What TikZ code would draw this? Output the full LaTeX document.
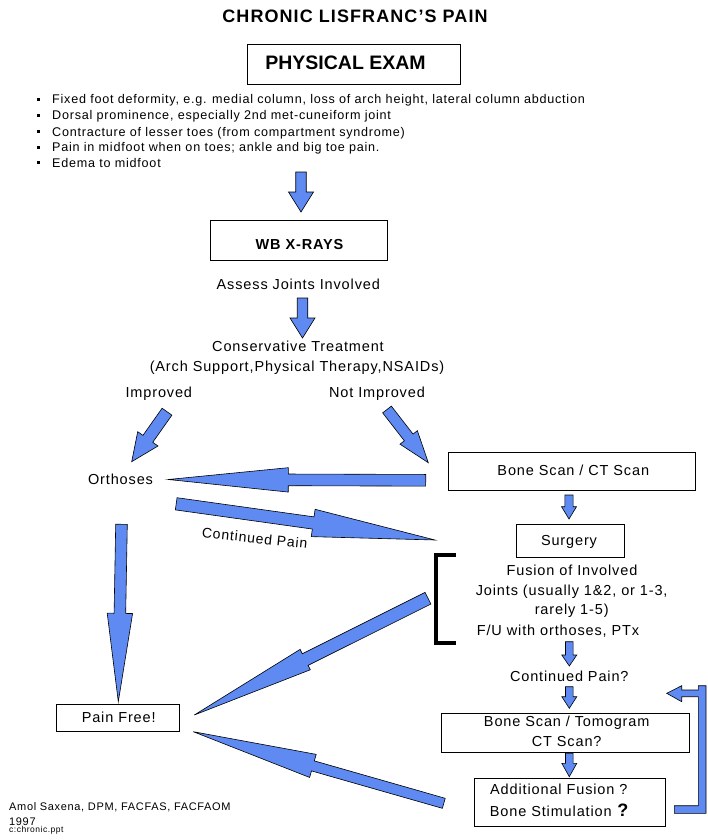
\documentclass[tikz,border=0pt]{standalone}
\usepackage{fontspec}
\setmainfont{Liberation Sans}[LetterSpace=6]
\newfontfamily\plainbold{Liberation Sans}[LetterSpace=0]
\usetikzlibrary{calc}
\definecolor{arrowblue}{RGB}{94,138,242}
\tikzset{
  fatstyle/.style={fill=arrowblue, draw=black, line width=0.6pt, line join=miter},
  box/.style={draw=black, line width=0.8pt, inner sep=0pt},
  txt/.style={inner sep=0pt, anchor=base, font=\fontsize{14.5}{17}\selectfont},
  bul/.style={inner sep=0pt, anchor=base west, font=\fontsize{12.6}{15}\selectfont},
  small/.style={inner sep=0pt, anchor=base west, font=\fontsize{11}{13}\selectfont},
}
% #1 tail, #2 tip, #3 shaft half width, #4 head half width, #5 head length
\newcommand\fatarrow[5]{%
  \path ($(#2)!#5!(#1)$) coordinate (fab);
  \filldraw[fatstyle] ($(#1)!#3!90:(#2)$) -- ($(fab)!#3!-90:(#1)$) -- ($(fab)!#4!-90:(#1)$) -- (#2)
    -- ($(fab)!#4!90:(#1)$) -- ($(fab)!#3!90:(#1)$) -- ($(#1)!#3!-90:(#2)$) -- cycle;}
\begin{document}
\begin{tikzpicture}[x=1pt,y=-1pt]
\useasboundingbox (0,0) rectangle (707,840);
\fill[white] (0,0) rectangle (707,840);

% title and physical exam
\node[inner sep=0pt, anchor=base, font=\bfseries\fontsize{18}{20}\selectfont] (title) at (355,22.7) {CHRONIC LISFRANC’S PAIN};
\node[box, minimum width=213pt, minimum height=40pt] (pebox) at (353.5,64.3) {};
\node[inner sep=0pt, anchor=base, font=\plainbold\bfseries\fontsize{19.5}{22}\selectfont] (pe) at (345.5,70) {PHYSICAL EXAM};

% bullets
\foreach \b in {104,120,136,151.5,167}{\fill (36.8,\b-6) rectangle ++(3,3);}
\node[bul] (b1) at (52,104) {Fixed foot deformity, e.g. medial column, loss of arch height, lateral column abduction};
\node[bul] (b2) at (52,120) {Dorsal prominence, especially 2nd met-cuneiform joint};
\node[bul] (b3) at (52,136) {Contracture of lesser toes (from compartment syndrome)};
\node[bul] (b4) at (52,151.5) {Pain in midfoot when on toes; ankle and big toe pain.};
\node[bul] (b5) at (52,167) {Edema to midfoot};

% WB x-rays
\node[box, minimum width=177.7pt, minimum height=40pt] (wbbox) at (298.85,240.7) {};
\node[txt, font=\bfseries\fontsize{14.5}{17}\selectfont] (wb) at (299.5,249.3) {WB X-RAYS};
\node[txt] (assess) at (298.3,289.3) {Assess Joints Involved};
\node[txt] (cons) at (298,351.5) {Conservative Treatment};
\node[txt] (arch) at (297,371) {(Arch Support,Physical Therapy,NSAIDs)};
\node[txt] (impr) at (158.8,397) {Improved};
\node[txt] (notimpr) at (377,397) {Not Improved};
\node[txt] (orth) at (120.5,484) {Orthoses};
\node[txt, rotate=-6, font=\fontsize{14}{16}\selectfont] (contpain) at (254.2,543) {Continued Pain};

% right column
\node[box, minimum width=246.7pt, minimum height=38.4pt] (bsbox) at (571.65,471.5) {};
\node[txt] (bs) at (573.3,475) {Bone Scan / CT Scan};
\node[box, minimum width=107.3pt, minimum height=33pt] (surgbox) at (570.35,540.8) {};
\node[txt] (surg) at (569,545) {Surgery};
\node[txt] (fus1) at (572,575.7) {Fusion of Involved};
\node[txt] (fus2) at (571.7,595) {Joints (usually 1\&2, or 1-3,};
\node[txt] (fus3) at (571.7,614) {rarely 1-5)};
\node[txt] (fu) at (558,635) {F/U with orthoses, PTx};
\node[txt] (cp) at (569.3,681.7) {Continued Pain?};
\node[box, minimum width=247.6pt, minimum height=39pt] (btbox) at (565.5,732.8) {};
\node[txt] (bt1) at (566.7,726.5) {Bone Scan / Tomogram};
\node[txt] (bt2) at (566.7,746) {CT Scan?};
\node[box, minimum width=191.4pt, minimum height=48.4pt] (addbox) at (570,802.5) {};
\node[txt, anchor=base west] (add1) at (490,794) {Additional Fusion ?};
\node[txt, anchor=base west] (add2) at (489.7,816) {Bone Stimulation \textbf{\fontsize{18}{20}\selectfont ?}};

% pain free
\node[box, minimum width=123.3pt, minimum height=27.7pt] (pfbox) at (117.65,717.85) {};
\node[txt] (pf) at (118.7,722.7) {Pain Free!};

% author
\node[small] (auth) at (9,810.7) {Amol Saxena, DPM, FACFAS, FACFAOM};
\node[small] (year) at (9,825) {1997};
\node[inner sep=0pt, anchor=base west, font=\fontsize{8.5}{10}\selectfont] (file) at (9,832.5) {c:chronic.ppt};

% bracket
\draw[line width=4.2pt, line join=miter] (456,554.8) -- (436.2,554.8) -- (436.2,643.2) -- (456,643.2);

% arrow end points
\coordinate (a1t) at (301,172);     \coordinate (a1h) at (301,212);
\coordinate (a2t) at (302.5,298);   \coordinate (a2h) at (302.5,338);
\coordinate (ait) at (167,411.7);   \coordinate (aih) at (131.7,461.7);
\coordinate (ant) at (387,409.5);   \coordinate (anh) at (428.3,462.7);
\coordinate (aot) at (425.7,480.3); \coordinate (aoh) at (168.3,479.5);
\coordinate (act) at (176.2,503.8); \coordinate (ach) at (435,540);
\coordinate (adt) at (121.5,524.3); \coordinate (adh) at (118.3,701.7);
\coordinate (aft) at (428,598.2);   \coordinate (afh) at (194.3,715);
\coordinate (aat) at (443.8,803.3); \coordinate (aah) at (193.3,731.7);
\coordinate (ast) at (569,495);     \coordinate (ash) at (569,519);
\coordinate (a3t) at (569.3,641.7); \coordinate (a3h) at (569.3,666);
\coordinate (a4t) at (569.3,686.7); \coordinate (a4h) at (569.3,708.3);
\coordinate (a5t) at (569.3,753.3); \coordinate (a5h) at (569.3,776.7);

\fatarrow{a1t}{a1h}{5.25pt}{12.5pt}{20pt}
\fatarrow{a2t}{a2h}{5.25pt}{12.5pt}{20pt}
\fatarrow{ait}{aih}{6pt}{12.4pt}{28pt}
\fatarrow{ant}{anh}{5.5pt}{11pt}{32pt}
\fatarrow{aot}{aoh}{5.85pt}{12.2pt}{120pt}
\fatarrow{act}{ach}{6.15pt}{13.8pt}{123pt}
\fatarrow{adt}{adh}{5.8pt}{12.7pt}{88.4pt}
\fatarrow{aft}{afh}{6.5pt}{11.4pt}{124pt}
\fatarrow{aat}{aah}{5.2pt}{12pt}{124.4pt}
\fatarrow{ast}{ash}{4.15pt}{7.5pt}{12.3pt}
\fatarrow{a3t}{a3h}{3.8pt}{7.5pt}{11pt}
\fatarrow{a4t}{a4h}{3.8pt}{7.5pt}{11.6pt}
\fatarrow{a5t}{a5h}{3.8pt}{7.5pt}{13.4pt}

% feedback loop arrow
\filldraw[fatstyle] (666.7,693.3) -- (681.7,685.7) -- (681.7,690) -- (698.3,690) -- (698.3,685.7)
  -- (706,685.7) -- (706,813.3) -- (674.3,813.3) -- (674.3,805.7) -- (698.3,805.7)
  -- (698.3,696.7) -- (681.7,696.7) -- (681.7,701.7) -- cycle;
\end{tikzpicture}
\end{document}
